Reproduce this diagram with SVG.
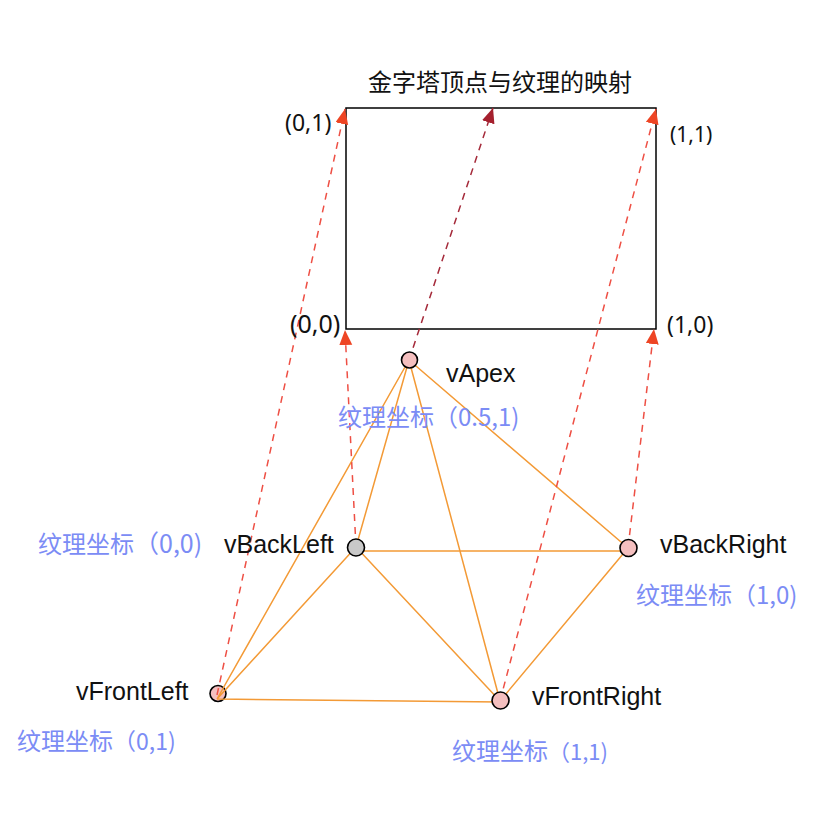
<svg xmlns="http://www.w3.org/2000/svg" width="840" height="814" viewBox="0 0 840 814">
<style>
text{font-family:"Liberation Sans","Noto Sans CJK SC",sans-serif;font-size:25px;fill:#111}
.c{font-family:"Noto Sans CJK SC","Liberation Sans",sans-serif;font-size:24px}
.p{font-family:"Noto Sans","Noto Sans CJK SC",sans-serif;font-size:23px}
.b{font-family:"Noto Sans CJK SC","Liberation Sans",sans-serif;font-size:24px;fill:#7b8cf5}
.o{stroke:#f39a36;stroke-width:1.5;fill:none}
.d{stroke:#ee4f44;stroke-width:1.5;stroke-dasharray:7 6;fill:none}
.dk{stroke:#a52a3a;stroke-width:1.5;stroke-dasharray:7 6;fill:none}
.n{stroke:#000;stroke-width:1.6;fill:#f4bfbf}
</style>
<defs>
<marker id="ar" markerUnits="userSpaceOnUse" markerWidth="16" markerHeight="14" refX="15" refY="6.500" orient="auto"><path d="M0 0L15 6.500L0 13Z" fill="#ee4524"/></marker>
<marker id="ak" markerUnits="userSpaceOnUse" markerWidth="16" markerHeight="14" refX="15" refY="6.500" orient="auto"><path d="M0 0L15 6.500L0 13Z" fill="#a5202e"/></marker>
</defs>
<g id="texture"><rect x="346" y="108" width="310" height="221" fill="#fff" stroke="#000" stroke-width="1.5"/></g>
<g id="vFrontLeft"><circle class="n" cx="218" cy="693.500" r="8"/><text x="76" y="700">vFrontLeft</text><text class="b" x="17" y="750">纹理坐标<tspan font-size="23">（0,1)</tspan></text></g>
<g id="connectors">
<path class="o" d="M409 360L217 699M409 360L356 547M409 360L628 548M409 360L500 701M356 551L628 551M356 547L217 699M356 547L500 701M628 548L500 701M217 699L500 702"/>
<path class="d" d="M217 695L345 109" marker-end="url(#ar)"/>
<path class="dk" d="M409 360L493 108" marker-end="url(#ak)"/>
<path class="d" d="M356 547L345 330" marker-end="url(#ar)"/>
<path class="d" d="M500 701L656 109" marker-end="url(#ar)"/>
<path class="d" d="M628 548L654 329" marker-end="url(#ar)"/>
</g>
<g id="vApex"><circle class="n" cx="409.500" cy="360" r="8"/><text x="446" y="382" font-size="24">vApex</text><text class="b" x="338" y="426">纹理坐标（0.5,1)</text></g>
<g id="vBackLeft"><circle class="n" style="fill:#c9c9c9" cx="356" cy="547.500" r="8.500"/><text x="224" y="553">vBackLeft</text><text class="b" x="38" y="553">纹理坐标<tspan font-size="25">（0,0)</tspan></text></g>
<g id="vBackRight"><circle class="n" cx="628.500" cy="548" r="8.500"/><text x="660" y="553">vBackRight</text><text class="b" x="636" y="604">纹理坐标（1,0)</text></g>
<g id="vFrontRight"><circle class="n" cx="500.500" cy="700.500" r="8.500"/><text x="532" y="705">vFrontRight</text><text class="b" x="452" y="760">纹理坐标<tspan font-size="22">（1,1)</tspan></text></g>
<g id="labels">
<text class="c" x="368" y="91">金字塔顶点与纹理的映射</text>
<text class="p" x="285" y="131">(0,1)</text>
<text class="p" x="670" y="142" font-size="21" style="font-size:21px">(1,1)</text>
<text class="p" x="290" y="333" style="font-size:25px">(0,0)</text>
<text class="p" x="667" y="333">(1,0)</text>
</g>
</svg>
